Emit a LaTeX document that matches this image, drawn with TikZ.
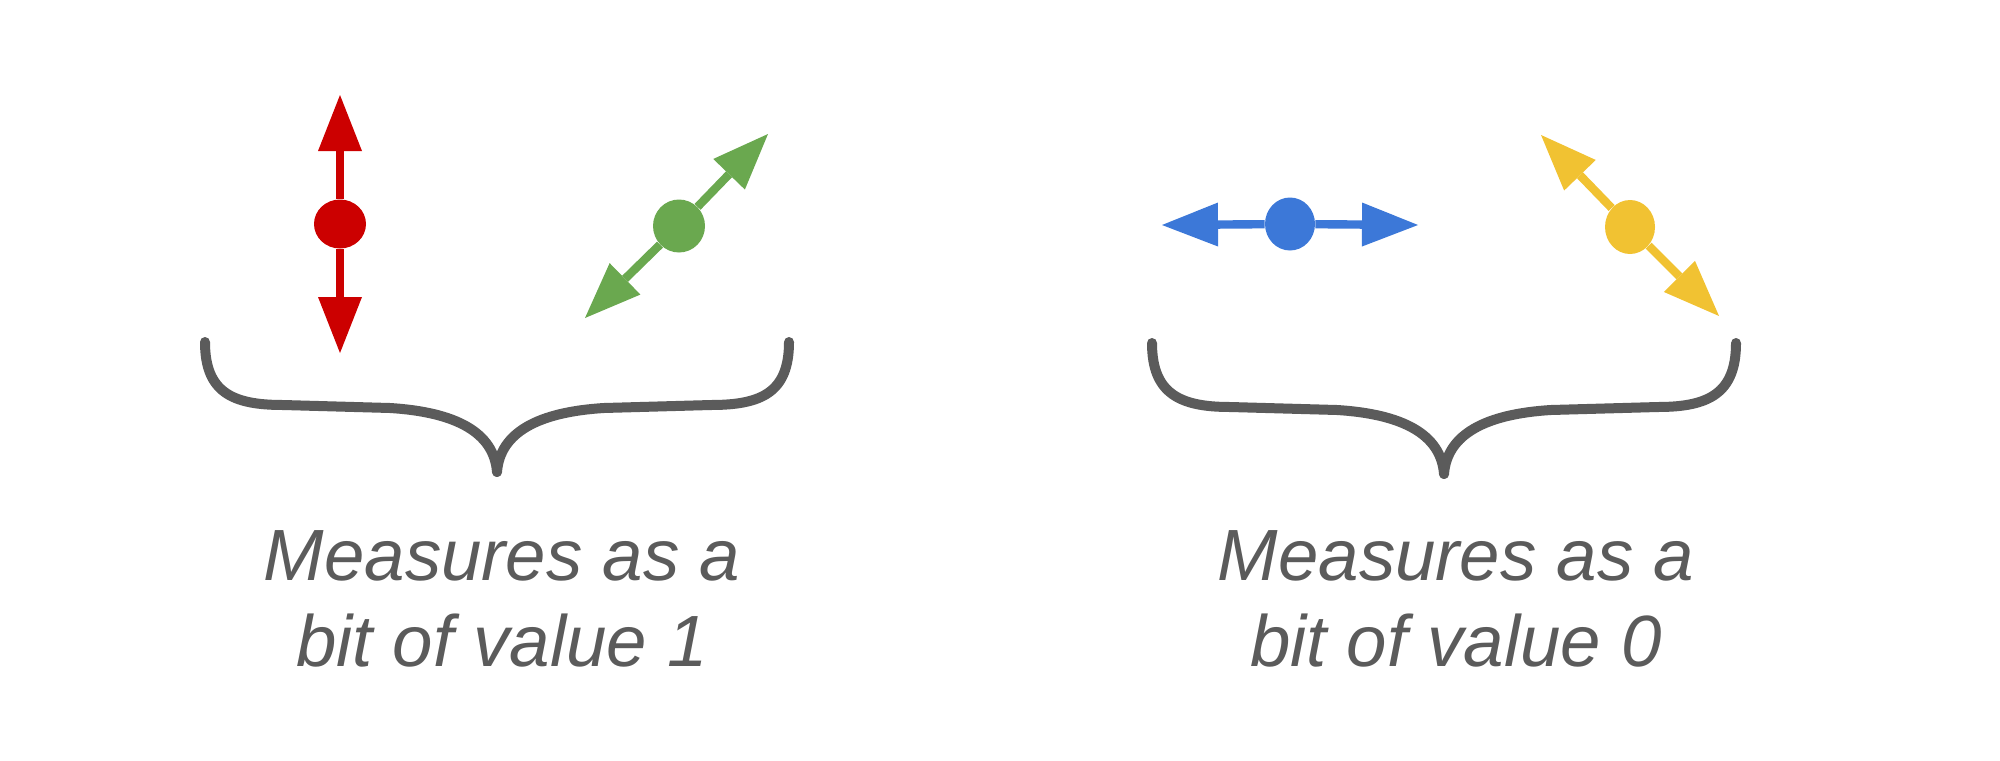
\documentclass[tikz,border=0pt]{standalone}
\usepackage{fontspec}
\setmainfont{Liberation Sans}
\usetikzlibrary{arrows.meta,shapes.geometric}
\definecolor{qred}{HTML}{CC0000}
\definecolor{qgreen}{HTML}{6AA84F}
\definecolor{qblue}{HTML}{3C78D8}
\definecolor{qyellow}{HTML}{F1C232}
\definecolor{qgray}{HTML}{5B5B5B}
\begin{document}
\begin{tikzpicture}[x=0.5pt,y=-0.5pt,
  dot/.style={ellipse,fill=#1,draw=none,inner sep=0pt},
  pol/.style={draw=#1,line width=4.2pt,-{Triangle[length=28pt,width=22pt,line width=0pt]},#1},
  brace/.style={draw=qgray,line width=5pt,line cap=round,line join=round},
  label/.style={text=qgray,font=\fontsize{36.3pt}{43pt}\selectfont\itshape,align=center,anchor=base}]
\useasboundingbox (0,0) rectangle (2000,760);
% red vertical
\node[dot=qred,minimum width=26pt,minimum height=24.5pt] (rd) at (340,224) {};
\coordinate (rt) at (340,95);
\coordinate (rb) at (340,353);
\draw[pol=qred] (rd) -- (rt);
\draw[pol=qred] (rd) -- (rb);
% green diagonal
\node[dot=qgreen,minimum width=26pt,minimum height=26.5pt] (gd) at (679,226) {};
\coordinate (gt) at (768,134);
\coordinate (gb) at (585,318);
\draw[pol=qgreen] (gd) -- (gt);
\draw[pol=qgreen] (gd) -- (gb);
% blue horizontal
\node[dot=qblue,minimum width=25pt,minimum height=26.5pt] (bd) at (1290,224) {};
\coordinate (bl) at (1162,225);
\coordinate (br) at (1418,225);
\draw[pol=qblue] (bd) -- (bl);
\draw[pol=qblue] (bd) -- (br);
% yellow diagonal
\node[dot=qyellow,minimum width=25pt,minimum height=27pt] (yd) at (1630,227) {};
\coordinate (yt) at (1541,135);
\coordinate (yb) at (1719,316);
\draw[pol=qyellow] (yd) -- (yt);
\draw[pol=qyellow] (yd) -- (yb);
% braces
\coordinate (b1l) at (205,342);
\coordinate (b1r) at (789,342);
\coordinate (b1m) at (497,472);
\draw[brace] (b1l) .. controls (205,392) and (232,405) .. (283,405) -- (390,408)
  .. controls (455,412) and (494,432) .. (b1m);
\draw[brace] (b1r) .. controls (789,392) and (762,405) .. (711,405) -- (604,408)
  .. controls (539,412) and (500,432) .. (b1m);
\coordinate (b2l) at (1152,343);
\coordinate (b2r) at (1736,343);
\coordinate (b2m) at (1444,474);
\draw[brace] (b2l) .. controls (1152,393) and (1179,407) .. (1230,407) -- (1337,410)
  .. controls (1402,414) and (1441,434) .. (b2m);
\draw[brace] (b2r) .. controls (1736,393) and (1709,407) .. (1658,407) -- (1551,410)
  .. controls (1486,414) and (1447,434) .. (b2m);
% labels
\node[label] (t1) at (502,666) {Measures as a\\bit of value 1};
\node[label] (t2) at (1456,666) {Measures as a\\bit of value 0};
\end{tikzpicture}
\end{document}
